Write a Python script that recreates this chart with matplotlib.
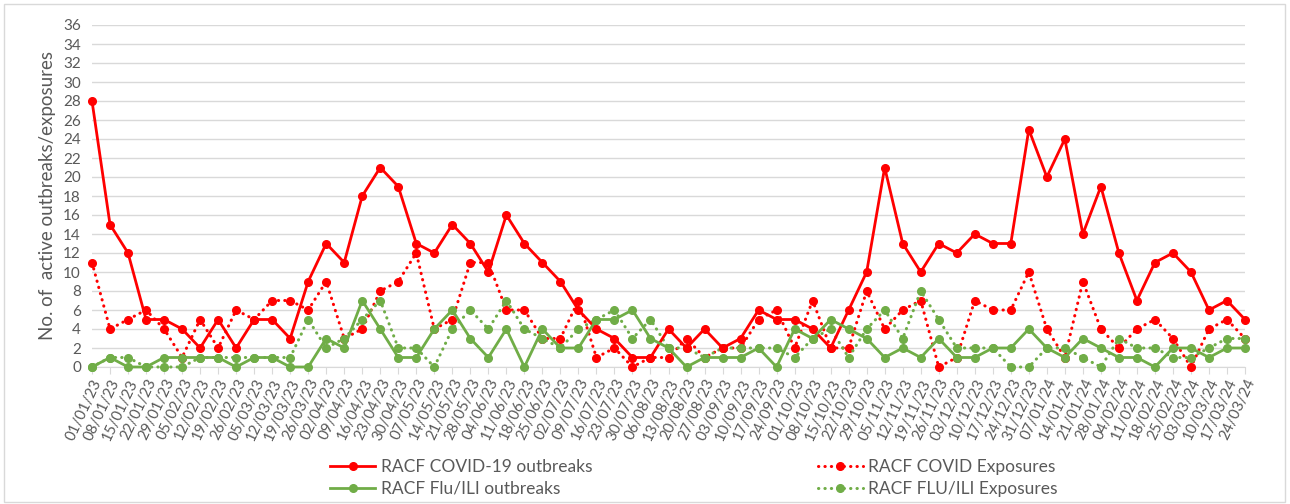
import matplotlib.pyplot as plt
from matplotlib.patches import Rectangle

# weekly dates (week starting)
weeks = [
    "01/01/23", "08/01/23", "15/01/23", "22/01/23", "29/01/23", "05/02/23", "12/02/23",
    "19/02/23", "26/02/23", "05/03/23", "12/03/23", "19/03/23", "26/03/23", "02/04/23",
    "09/04/23", "16/04/23", "23/04/23", "30/04/23", "07/05/23", "14/05/23", "21/05/23",
    "28/05/23", "04/06/23", "11/06/23", "18/06/23", "25/06/23", "02/07/23", "09/07/23",
    "16/07/23", "23/07/23", "30/07/23", "06/08/23", "13/08/23", "20/08/23", "27/08/23",
    "03/09/23", "10/09/23", "17/09/23", "24/09/23", "01/10/23", "08/10/23", "15/10/23",
    "22/10/23", "29/10/23", "05/11/23", "12/11/23", "19/11/23", "26/11/23", "03/12/23",
    "10/12/23", "17/12/23", "24/12/23", "31/12/23", "07/01/24", "14/01/24", "21/01/24",
    "28/01/24", "04/02/24", "11/02/24", "18/02/24", "25/02/24", "03/03/24", "10/03/24",
    "17/03/24", "24/03/24",
]

covid_outbreaks = [28, 15, 12, 5, 5, 4, 2, 5, 2, 5, 5, 3,
                   9, 13, 11, 18, 21, 19, 13, 12, 15, 13,
                   10, 16, 13, 11, 9, 6, 4, 3, 1, 1,
                   4, 2, 4, 2, 3, 6, 5, 5, 4, 2,
                   6, 10, 21, 13, 10, 13, 12, 14, 13, 13,
                   25, 20, 24, 14, 19, 12, 7, 11, 12, 10, 6, 7, 5]
covid_exposures = [11, 4, 5, 6, 4, 1, 5, 2, 6, 5, 7, 7,
                   6, 9, 3, 4, 8, 9, 12, 4, 5, 11,
                   11, 6, 6, 3, 3, 7, 1, 2, 0, 1,
                   1, 3, 1, 2, 2, 5, 6, 2, 7, 2,
                   2, 8, 4, 6, 7, 0, 1, 7, 6, 6,
                   10, 4, 1, 9, 4, 2, 4, 5, 3, 0, 4, 5, 3]
flu_outbreaks = [0, 1, 0, 0, 1, 1, 1, 1, 0, 1, 1, 0,
                 0, 3, 2, 7, 4, 1, 1, 4, 6, 3,
                 1, 4, 0, 4, 2, 2, 5, 5, 6, 3,
                 2, 0, 1, 1, 1, 2, 0, 4, 3, 5,
                 4, 3, 1, 2, 1, 3, 1, 1, 2, 2,
                 4, 2, 1, 3, 2, 1, 1, 0, 2, 2, 1, 2, 2]
flu_exposures = [0, 1, 1, 0, 0, 0, 1, 1, 1, 1, 1, 1,
                 5, 2, 3, 5, 7, 2, 2, 0, 4, 6,
                 4, 7, 4, 3, 2, 4, 5, 6, 3, 5,
                 2, 2, 1, 2, 2, 2, 2, 1, 3, 4,
                 1, 4, 6, 3, 8, 5, 2, 2, 2, 0,
                 0, 2, 2, 1, 0, 3, 2, 2, 1, 1, 2, 3, 3]

red = "#FF0000"
green = "#70AD47"
grey = "#595959"

plt.rcParams['font.family'] = ['Lato', 'DejaVu Sans']

fig = plt.figure(figsize=(12.9, 5.04), dpi=100)
ax = fig.add_axes([92 / 1290, 1 - 367 / 504, (1245 - 92) / 1290, (367 - 25) / 504])

x = list(range(len(weeks)))
dot = (0, (0.1, 2.0))

ax.plot(x, covid_outbreaks, color=red, lw=2.0, marker='o', ms=5.5,
        label='RACF COVID-19 outbreaks', clip_on=False, zorder=4)
ax.plot(x, covid_exposures, color=red, lw=2.2, ls=dot, dash_capstyle='round',
        marker='o', ms=5.5, label='RACF COVID Exposures', clip_on=False, zorder=3)
ax.plot(x, flu_outbreaks, color=green, lw=2.0, marker='o', ms=5.5,
        label='RACF Flu/ILI outbreaks', clip_on=False, zorder=4)
ax.plot(x, flu_exposures, color=green, lw=2.2, ls=dot, dash_capstyle='round',
        marker='o', ms=5.5, label='RACF FLU/ILI Exposures', clip_on=False, zorder=3)

ax.set_xlim(0, len(weeks) - 1)
ax.set_ylim(0, 36)
ax.set_yticks(range(0, 37, 2))
ax.set_xticks(x)
ax.set_xticklabels(weeks, rotation=65, ha='right', rotation_mode='anchor',
                   fontsize=10.8, color=grey)
ax.tick_params(axis='y', length=0, labelsize=11, labelcolor=grey, pad=8)
ax.tick_params(axis='x', length=5, color='#d9d9d9', pad=2)

ax.grid(axis='y', color='#d9d9d9', lw=1)
ax.set_axisbelow(True)
for side in ['top', 'right', 'left']:
    ax.spines[side].set_visible(False)
ax.spines['bottom'].set_color('#d9d9d9')

ax.set_ylabel('No. of  active outbreaks/exposures', fontsize=13.5, color=grey, labelpad=5)

h, l = ax.get_legend_handles_labels()
order = [0, 2, 1, 3]
fig.legend([h[i] for i in order], [l[i] for i in order], ncol=2,
           loc='center', bbox_to_anchor=(0.538, 0.052), frameon=False,
           fontsize=12.5, labelcolor=grey, columnspacing=13.0,
           handlelength=2.6, handletextpad=0.3, labelspacing=0.35)

# light border round the chart area
fig.patches.append(Rectangle((4 / 1290, 2 / 504), 1281 / 1290, 498 / 504,
                             transform=fig.transFigure, fill=False,
                             edgecolor='#d9d9d9', lw=1))

fig.savefig('out.png', dpi=100)
